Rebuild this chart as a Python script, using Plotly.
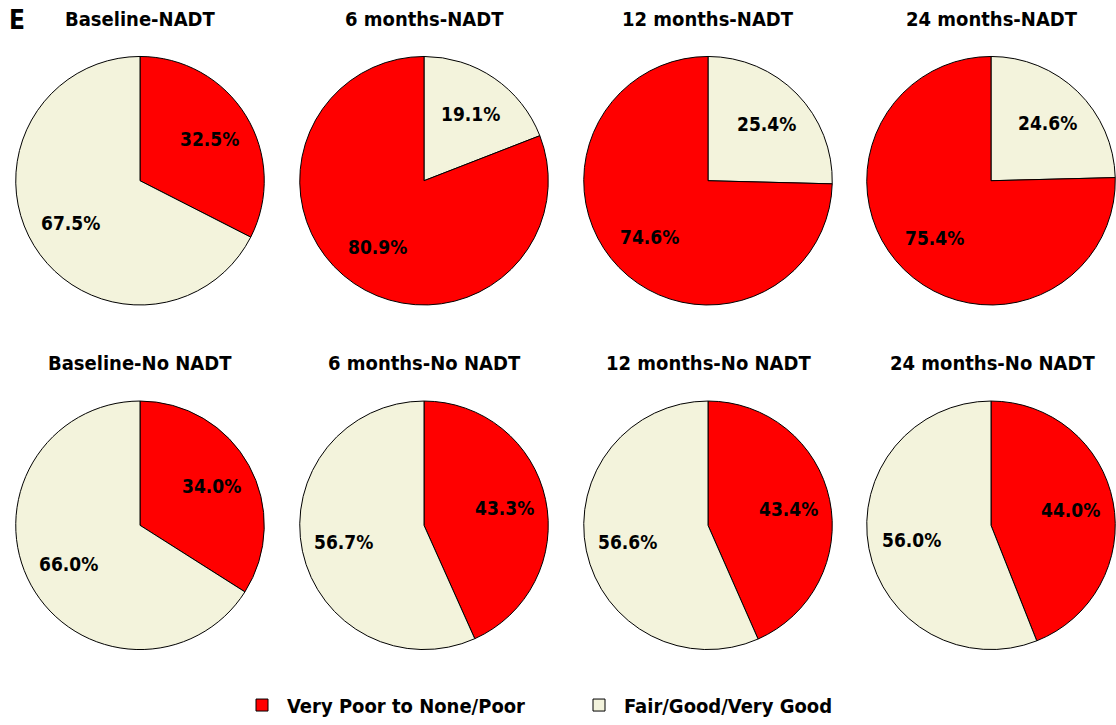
import math
import plotly.graph_objects as go

titles = ["Baseline-NADT", "6 months-NADT", "12 months-NADT", "24 months-NADT",
          "Baseline-No NADT", "6 months-No NADT", "12 months-No NADT", "24 months-No NADT"]
categories = ["Very Poor to None/Poor", "Fair/Good/Very Good"]
poor_vals = [32.5, 80.9, 74.6, 75.4, 34.0, 43.3, 43.4, 44.0]
fair_vals = [67.5, 19.1, 25.4, 24.6, 66.0, 56.7, 56.6, 56.0]
colors = {"Very Poor to None/Poor": "#FF0000", "Fair/Good/Very Good": "#F3F3DC"}

W, H = 1116, 725
YS = 1.0069  # small vertical correction
FONT = "DejaVu Sans Condensed, Liberation Sans Narrow, Arial Narrow, sans-serif"
col_cx = [140, 424, 708, 992]
row_cy = [182, 529]
R = 126
LABEL_R = 0.65


def py(y):
    return (H - y * YS) / H


fig = go.Figure()
for i, t in enumerate(titles):
    r, c = divmod(i, 4)
    cx, cy = col_cx[c], row_cy[r] * YS
    x0, x1 = (cx - R) / W, min((cx + R) / W, 1.0)
    y0, y1 = (H - cy - R) / H, (H - cy + R) / H
    pairs = list(zip(categories, [poor_vals[i], fair_vals[i]]))
    # smaller slice starts at 12 o'clock, running clockwise
    if pairs[0][1] > pairs[1][1]:
        pairs = pairs[::-1]
    labs = [p[0] for p in pairs]
    vals = [p[1] for p in pairs]
    fig.add_trace(go.Pie(
        labels=labs, values=vals,
        marker=dict(colors=[colors[l] for l in labs], line=dict(color="black", width=1)),
        sort=False, direction="clockwise", rotation=0,
        textinfo="none",
        domain=dict(x=[x0, x1], y=[y0, y1]),
        showlegend=(i == 0), hoverinfo="label+value",
    ))
    # percentage labels placed along each slice bisector
    pcx = (x0 + x1) / 2 * W
    pr = min((x1 - x0) * W, (y1 - y0) * H) / 2
    total = sum(vals)
    start = 0.0
    for v in vals:
        mid = (start + v / 2) / total * 2 * math.pi
        start += v
        lx = pcx + LABEL_R * pr * math.sin(mid)
        ly = cy - LABEL_R * pr * math.cos(mid)
        fig.add_annotation(text=f"{v:.1f}%", x=lx / W, y=(H - ly) / H,
                           xref="paper", yref="paper", showarrow=False,
                           xanchor="center", yanchor="middle",
                           font=dict(family=FONT, size=19, color="black", weight="bold"))
    fig.add_annotation(text=t, x=cx / W, y=py(19 if r == 0 else 366),
                       xref="paper", yref="paper", showarrow=False,
                       font=dict(family=FONT, size=20, color="black", weight="bold"),
                       xanchor="center", yanchor="middle")

fig.add_annotation(text="E", x=7 / W, y=py(20), xref="paper", yref="paper",
                   showarrow=False, xanchor="left", yanchor="middle",
                   font=dict(family=FONT, size=26, color="black", weight="bold"))

fig.update_layout(
    width=W, height=H, margin=dict(l=0, r=0, t=0, b=0),
    paper_bgcolor="white", plot_bgcolor="white",
    legend=dict(orientation="h", x=237 / W, xanchor="left", y=py(710), yanchor="middle",
                font=dict(family=FONT, size=20, color="black", weight="bold"),
                itemwidth=40, tracegroupgap=0, entrywidth=282),
    font=dict(family=FONT),
)
fig.write_html("out.html", config={"displayModeBar": False},
               post_script="document.body.style.margin='0';")
